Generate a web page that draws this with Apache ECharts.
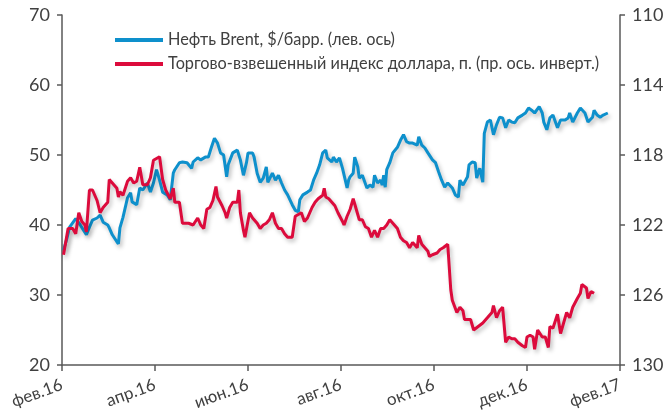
<!DOCTYPE html>
<html>
<head>
<meta charset="utf-8">
<script src="https://cdn.jsdelivr.net/npm/echarts@6/dist/echarts.min.js"></script>
<style>
html,body{margin:0;padding:0;background:#fff;}
#main{width:667px;height:414px;}
</style>
</head>
<body>
<div id="main"></div>
<script>
// подписи оси X (каждые 2 месяца), день от 01.02.2016
var tickLabels = ['фев.16', 'апр.16', 'июн.16', 'авг.16', 'окт.16', 'дек.16', 'фев.17'];
var tickStep = 61;

// Нефть Brent, $/барр. (лев. ось)
var brentDays = [1,3,5,9,12,14,16,18,20,23,25,27,30,31,33,36,37,38,40,43,45,46,49,51,53,56,58,60,62,64,66,69,71,73,74,77,79,82,85,86,89,91,94,96,98,100,102,104,106,108,109,112,113,115,117,119,121,122,125,126,128,130,132,134,135,138,140,142,144,146,148,151,153,155,156,158,161,163,165,167,169,171,173,174,177,178,180,182,184,187,188,189,191,192,194,195,197,198,200,202,204,205,207,209,210,211,212,213,215,217,220,222,224,226,228,230,233,234,236,238,240,243,245,247,249,251,253,256,258,260,261,263,266,267,269,271,272,274,276,277,279,281,283,285,287,289,291,293,295,297,299,302,304,306,308,310,313,315,316,318,320,322,325,327,330,332,333,335,338,340,343,345,348,349,351,353,355,358];
var brentVals = [36.4,37.9,39.7,40.9,40.0,39.3,38.6,39.7,40.7,41.0,41.4,40.4,40.0,39.6,38.6,37.6,37.3,39.6,41.1,43.9,44.6,43.3,42.9,45.3,45.0,46.0,44.7,46.0,47.9,46.4,44.7,44.3,43.6,47.4,47.9,48.9,49.0,48.9,48.1,49.0,49.6,49.3,49.7,49.7,51.1,52.4,51.7,50.3,50.0,46.9,48.6,50.3,50.4,50.7,49.3,47.1,48.9,50.3,50.3,49.7,47.4,46.1,46.7,48.3,46.1,47.4,46.4,47.1,46.0,45.0,44.3,42.9,42.1,41.9,43.6,44.3,44.7,45.0,46.4,47.4,48.6,50.3,50.7,49.6,49.0,49.7,49.0,49.6,48.1,45.3,46.4,46.9,47.4,49.7,48.3,46.7,47.1,46.9,45.3,45.7,45.4,47.1,46.0,46.4,45.7,47.1,45.4,47.9,48.9,50.3,51.1,52.1,52.9,51.9,51.7,51.7,51.4,52.6,51.4,51.0,50.3,49.3,48.9,47.6,46.4,45.4,46.0,45.3,44.3,44.0,46.4,45.7,46.9,48.6,49.0,48.9,46.7,48.1,46.1,53.1,54.7,55.0,52.9,54.3,55.4,55.3,53.9,55.0,54.7,54.6,55.3,55.7,56.0,56.7,56.4,56.0,56.9,56.0,54.7,53.6,55.3,55.7,53.9,55.0,55.0,55.3,56.0,54.7,56.0,56.7,56.0,54.7,55.4,56.4,55.7,55.4,55.7,56.0];

// Торгово-взвешенный индекс доллара, п. (пр. ось, инверт.)
var usdDays = [1,4,7,9,11,13,15,16,18,20,23,25,27,30,31,33,36,37,38,40,43,45,47,49,51,53,56,58,60,62,64,66,68,71,73,74,77,79,83,86,89,91,93,95,97,99,101,102,105,107,108,110,112,115,116,117,119,120,123,125,128,130,132,134,136,138,140,142,144,146,148,151,152,153,155,156,157,159,161,164,166,168,171,172,173,175,177,179,181,184,185,187,189,191,194,195,197,199,201,203,205,207,209,211,213,215,217,220,222,224,226,228,230,233,234,236,238,240,241,243,246,248,250,253,254,255,256,259,260,261,263,264,268,270,273,276,277,279,282,283,285,287,289,291,293,295,297,299,302,304,305,307,309,310,312,315,317,319,320,322,325,327,329,331,333,335,338,340,341,344,345,347,349];
var usdVals = [123.7,122.2,122.2,122.5,121.3,121.8,122.0,122.4,120.0,120.0,120.6,121.3,121.0,120.7,119.4,119.6,119.9,120.4,120.1,120.3,119.5,119.3,119.6,119.5,118.7,119.7,119.7,119.3,118.3,118.2,118.1,119.4,120.0,120.5,119.9,120.7,120.7,121.9,121.9,122.0,121.6,122.0,122.2,121.1,121.0,120.6,119.8,120.4,120.9,121.3,121.6,121.0,120.7,120.7,120.0,121.3,122.3,122.7,121.3,121.6,121.9,122.2,122.0,121.9,121.7,121.3,121.9,122.2,122.2,122.5,122.7,122.7,122.1,121.5,121.4,121.5,121.3,121.8,121.6,121.0,120.7,120.5,120.3,119.9,120.4,120.5,120.7,120.9,121.3,121.8,122.0,121.5,121.1,120.5,121.4,121.7,121.7,122.1,122.2,122.7,122.3,122.7,122.2,122.2,122.0,121.7,121.9,122.2,122.7,122.9,123.0,123.3,123.0,123.3,122.6,123.1,123.3,123.5,123.8,123.7,123.6,123.4,123.3,123.1,123.0,125.7,126.3,127.0,127.1,126.7,126.9,127.4,127.4,128.0,127.8,127.6,127.6,127.3,127.0,126.6,127.3,126.9,126.7,128.7,128.4,128.5,128.5,128.7,128.9,129.0,128.4,128.3,128.4,129.1,128.0,128.4,128.4,129.0,127.8,127.9,127.1,128.2,127.6,127.0,127.3,126.7,126.2,125.9,125.4,125.6,126.2,125.8,125.9];

var brentName = 'Нефть Brent, $/барр. (лев. ось)';
var usdName = 'Торгово-взвешенный индекс доллара, п. (пр. ось. инверт.)';

function zip(xs, ys) {
	var out = [];
	for (var i = 0; i < xs.length; i++) {
		out.push([xs[i], ys[i]]);
	}
	return out;
}

var myChart = echarts.init(document.getElementById('main'));
var txtColor = '#404040';
var lineColor = '#595959';
var fontName = 'Lato';

var option = {
	backgroundColor: '#fff',
	animation: false,
	grid: {left: 62, right: 47, top: 15, bottom: 49},
	legend: {
		orient: 'vertical',
		left: 110,
		top: 27,
		itemWidth: 48,
		itemHeight: 4,
		itemGap: 8,
		icon: 'rect',
		textStyle: {color: txtColor, fontSize: 16.3, fontFamily: fontName},
		data: [brentName, usdName]
	},
	xAxis: {
		type: 'value',
		min: 0,
		max: tickStep * (tickLabels.length - 1),
		interval: tickStep,
		splitLine: {show: false},
		axisLine: {lineStyle: {color: lineColor, width: 1.5}},
		axisTick: {show: true, length: 6, lineStyle: {color: lineColor, width: 1.5}},
		axisLabel: {
			rotate: 20,
			color: txtColor,
			fontSize: 17,
			fontFamily: fontName,
			margin: 19,
			formatter: function (v) {
				return tickLabels[Math.round(v / tickStep)];
			}
		}
	},
	yAxis: [
		{
			type: 'value',
			min: 20,
			max: 70,
			interval: 10,
			splitLine: {show: false},
			axisLine: {show: true, lineStyle: {color: lineColor, width: 1.5}},
			axisTick: {show: true, length: 5, lineStyle: {color: lineColor, width: 1.5}},
			axisLabel: {color: txtColor, fontSize: 18, fontFamily: fontName, margin: 12}
		},
		{
			type: 'value',
			min: 110,
			max: 130,
			interval: 4,
			inverse: true,
			position: 'right',
			splitLine: {show: false},
			axisLine: {show: true, lineStyle: {color: lineColor, width: 1.5}},
			axisTick: {show: true, length: 5, lineStyle: {color: lineColor, width: 1.5}},
			axisLabel: {color: txtColor, fontSize: 18, fontFamily: fontName, margin: 12}
		}
	],
	series: [
		{
			name: brentName,
			type: 'line',
			yAxisIndex: 0,
			showSymbol: false,
			symbol: 'none',
			color: '#0E90CC',
			lineStyle: {
				width: 3,
				color: '#0E90CC',
				shadowColor: 'rgba(0,0,0,0.25)',
				shadowBlur: 4,
				shadowOffsetX: 2,
				shadowOffsetY: 3
			},
			data: zip(brentDays, brentVals)
		},
		{
			name: usdName,
			type: 'line',
			yAxisIndex: 1,
			showSymbol: false,
			symbol: 'none',
			color: '#DC0B3C',
			lineStyle: {
				width: 3,
				color: '#DC0B3C',
				shadowColor: 'rgba(0,0,0,0.25)',
				shadowBlur: 4,
				shadowOffsetX: 2,
				shadowOffsetY: 3
			},
			data: zip(usdDays, usdVals)
		}
	]
};
myChart.setOption(option);
</script>
</body>
</html>
